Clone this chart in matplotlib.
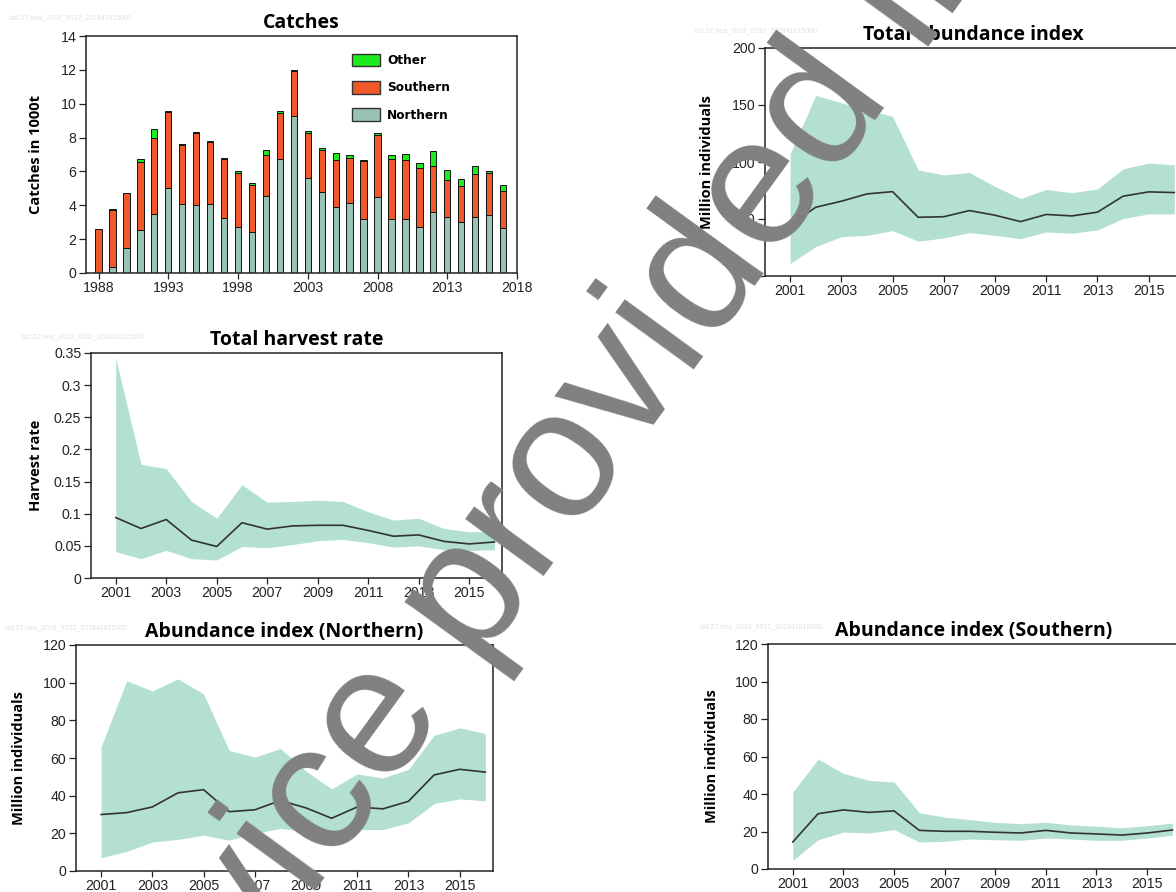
import matplotlib
matplotlib.use('Agg')
import matplotlib.pyplot as plt
from matplotlib.patches import Patch
from matplotlib.ticker import FuncFormatter
import numpy as np

plt.rcParams['font.family'] = ['Liberation Sans', 'DejaVu Sans']

# ---------------- data ----------------
catch_years = [1988, 1989, 1990, 1991, 1992, 1993, 1994, 1995, 1996, 1997,
               1998, 1999, 2000, 2001, 2002, 2003, 2004, 2005, 2006, 2007,
               2008, 2009, 2010, 2011, 2012, 2013, 2014, 2015, 2016, 2017]
catch_northern = [0.0, 0.35, 1.5, 2.55, 3.5, 5.0, 4.07, 4.0, 4.07, 3.25,
                  2.74, 2.45, 4.55, 6.74, 9.28, 5.6, 4.78, 3.92, 4.15, 3.17,
                  4.48, 3.17, 3.17, 2.74, 3.6, 3.31, 3.02, 3.31, 3.45, 2.68]
catch_southern = [2.6, 3.4, 3.2, 4.0, 4.45, 4.5, 3.48, 4.25, 3.65, 3.5,
                  3.18, 2.77, 2.42, 2.74, 2.64, 2.66, 2.46, 2.74, 2.64, 3.45,
                  3.67, 3.57, 3.49, 3.45, 2.74, 2.19, 2.11, 2.53, 2.46, 2.18]
catch_other = [0.0, 0.05, 0.05, 0.2, 0.55, 0.05, 0.05, 0.05, 0.08, 0.05,
               0.08, 0.08, 0.28, 0.07, 0.08, 0.14, 0.12, 0.43, 0.16, 0.08,
               0.1, 0.21, 0.37, 0.33, 0.89, 0.61, 0.43, 0.5, 0.09, 0.33]
catch_xticks = [1988, 1993, 1998, 2003, 2008, 2013, 2018]
catch_yticks = [0, 2, 4, 6, 8, 10, 12, 14]

years = [2001, 2002, 2003, 2004, 2005, 2006, 2007, 2008,
         2009, 2010, 2011, 2012, 2013, 2014, 2015, 2016]
line_xticks = [2001, 2003, 2005, 2007, 2009, 2011, 2013, 2015]

hr_mean = [0.094, 0.077, 0.091, 0.059, 0.049, 0.086, 0.076, 0.081,
           0.082, 0.082, 0.074, 0.065, 0.067, 0.057, 0.053, 0.056]
hr_upper = [0.342, 0.177, 0.170, 0.119, 0.093, 0.145, 0.118, 0.119,
            0.121, 0.119, 0.103, 0.090, 0.093, 0.077, 0.072, 0.072]
hr_lower = [0.041, 0.030, 0.043, 0.030, 0.028, 0.049, 0.047, 0.052,
            0.058, 0.060, 0.055, 0.048, 0.050, 0.044, 0.043, 0.044]
hr_yticks = [0, 0.05, 0.1, 0.15, 0.2, 0.25, 0.3, 0.35]

north_mean = [30, 31, 34, 41.5, 43.2, 31.5, 32.5, 37.4,
              33.5, 28, 34, 33, 37, 51, 54, 52.5]
north_upper = [66, 101, 95.6, 102, 94, 64, 60.5, 65,
               53, 43.6, 51.5, 49.4, 54, 72, 76, 73]
north_lower = [7, 10.4, 15.4, 16.8, 19, 16.4, 20, 22.6,
               21, 20, 22, 22, 25.6, 35.8, 38.3, 37.2]
abund_yticks = [0, 20, 40, 60, 80, 100, 120]

total_mean = [44.5, 60.3, 65.6, 72, 74, 51.5, 52, 57.4,
              53.3, 47.7, 54, 52.7, 56, 70, 73.8, 73.2]
total_upper = [107, 158.4, 152, 146, 140, 93, 88.7, 90.8,
               78.5, 68, 76, 73, 76.4, 94, 99, 97.5]
total_lower = [11, 25.8, 34.5, 35.7, 39.8, 30.5, 33.4, 38,
               35.7, 32.8, 38.6, 37.5, 40.4, 50.4, 54.5, 54.5]
total_yticks = [0, 50, 100, 150, 200]

south_mean = [14.4, 29.5, 31.5, 30.2, 31, 20.6, 20.1, 20.1,
              19.6, 19.2, 20.6, 19.2, 18.7, 18.1, 19.2, 20.8]
south_upper = [40.9, 58.7, 51, 47.3, 46.4, 30, 27.7, 26.3,
               24.9, 24.2, 24.9, 23.5, 22.8, 22, 23.1, 24.5]
south_lower = [4.6, 15.6, 19.7, 19.2, 21, 14.4, 14.8, 16,
               15.6, 15.3, 16.5, 16, 15.3, 15.3, 16.5, 18]

panel_id = "bsf.27.nea_2018_9532_201841815000"

# ---------------- style ----------------
W, H = 1176, 892
C_NORTH = '#98C2B3'
C_SOUTH = '#F0582A'
C_OTHER = '#1EEB1E'
C_BAND = '#B3E0D3'
C_LINE = '#333333'
TITLE_FONT = dict(family=['Open Sans', 'DejaVu Sans'], weight='bold', size=14)
YLAB_FONT = dict(family=['Open Sans', 'DejaVu Sans'], weight='bold', size=10.5)
TICK_SIZE = 10.2
TITLE_PAD = 5.5

fig = plt.figure(figsize=(W / 100, H / 100), dpi=100)


def px_axes(left, top, right, bottom):
    return fig.add_axes([left / W, 1 - bottom / H, (right - left) / W, (bottom - top) / H])


def style_axes(ax):
    for s in ax.spines.values():
        s.set_linewidth(1.1)
        s.set_color('#222222')
    ax.tick_params(axis='y', direction='out', length=5, width=0.9,
                   labelsize=TICK_SIZE, colors='#222222', pad=2)
    ax.tick_params(axis='x', direction='out', length=4, width=0.9,
                   labelsize=TICK_SIZE, colors='#222222', pad=1.5)


fmt_g = FuncFormatter(lambda v, p: '%g' % v)

# ---------------- Catches ----------------
ax = px_axes(86, 36, 517, 273)
yr = np.array(catch_years)
n = np.array(catch_northern)
s = np.array(catch_southern)
o = np.array(catch_other)
bw = 0.45
ax.bar(yr, n, width=bw, color=C_NORTH, edgecolor='#111111', linewidth=0.7)
ax.bar(yr, s, bottom=n, width=bw, color=C_SOUTH, edgecolor='#111111', linewidth=0.7)
ax.bar(yr, o, bottom=n + s, width=bw, color=C_OTHER, edgecolor='#111111', linewidth=0.7)
ax.set_xlim(1987.1, 2018)
ax.set_ylim(0, 14)
ax.set_xticks(catch_xticks)
ax.set_yticks(catch_yticks)
style_axes(ax)
ax.set_title('Catches', pad=TITLE_PAD, **TITLE_FONT)
ax.set_ylabel('Catches in 1000t', labelpad=12.5, **YLAB_FONT)
handles = [Patch(facecolor=C_OTHER, edgecolor='#333333', linewidth=1.0, label='Other'),
           Patch(facecolor=C_SOUTH, edgecolor='#333333', linewidth=1.0, label='Southern'),
           Patch(facecolor=C_NORTH, edgecolor='#333333', linewidth=1.0, label='Northern')]
ax.legend(handles=handles, loc='upper left', bbox_to_anchor=((352 - 86) / 431, 1 - (54 - 36) / 237),
          frameon=False, borderpad=0, borderaxespad=0, handlelength=2.3, handleheight=1.2,
          handletextpad=0.6, labelspacing=1.15,
          prop=dict(family=['DejaVu Sans'], weight='bold', size=8.7))
fig.text(10 / W, 1 - 18 / H, panel_id, fontsize=5, color='#e2e2e2', va='center')


def band_panel(box, lower, mean, upper, ylim, yticks, title, ylabel, id_xy, labelpad):
    ax = px_axes(*box)
    ax.fill_between(years, lower, upper, color=C_BAND, linewidth=0)
    ax.plot(years, mean, color=C_LINE, linewidth=1.2)
    ax.set_xlim(2000.02, 2016.3)
    ax.set_ylim(*ylim)
    ax.set_xticks(line_xticks)
    ax.set_yticks(yticks)
    ax.yaxis.set_major_formatter(fmt_g)
    style_axes(ax)
    ax.set_title(title, pad=TITLE_PAD, **TITLE_FONT)
    ax.set_ylabel(ylabel, labelpad=labelpad, **YLAB_FONT)
    fig.text(id_xy[0] / W, 1 - id_xy[1] / H, panel_id, fontsize=5, color='#e2e2e2', va='center')
    return ax


band_panel((91, 353, 502, 578), hr_lower, hr_mean, hr_upper, (0, 0.35), hr_yticks,
           'Total harvest rate', 'Harvest rate', (22, 337), 8)
band_panel((76, 645, 493, 871), north_lower, north_mean, north_upper, (0, 120), abund_yticks,
           'Abundance index (Northern)', 'Million individuals', (5, 628), 12)
band_panel((765, 48, 1182, 276), total_lower, total_mean, total_upper, (0, 200), total_yticks,
           'Total abundance index', 'Million individuals', (695, 31), 13)
band_panel((768, 644, 1180, 869), south_lower, south_mean, south_upper, (0, 120), abund_yticks,
           'Abundance index (Southern)', 'Million individuals', (700, 627), 11)

# ---------------- watermark ----------------
fig.text(122 / W, 1 - 1157 / H, 'Advice provided in 2018', rotation=54,
         rotation_mode='anchor', ha='left', va='baseline', fontsize=132.5,
         color='#808080', family=['Liberation Sans', 'DejaVu Sans'], zorder=20)

fig.savefig('out.png', dpi=100)
